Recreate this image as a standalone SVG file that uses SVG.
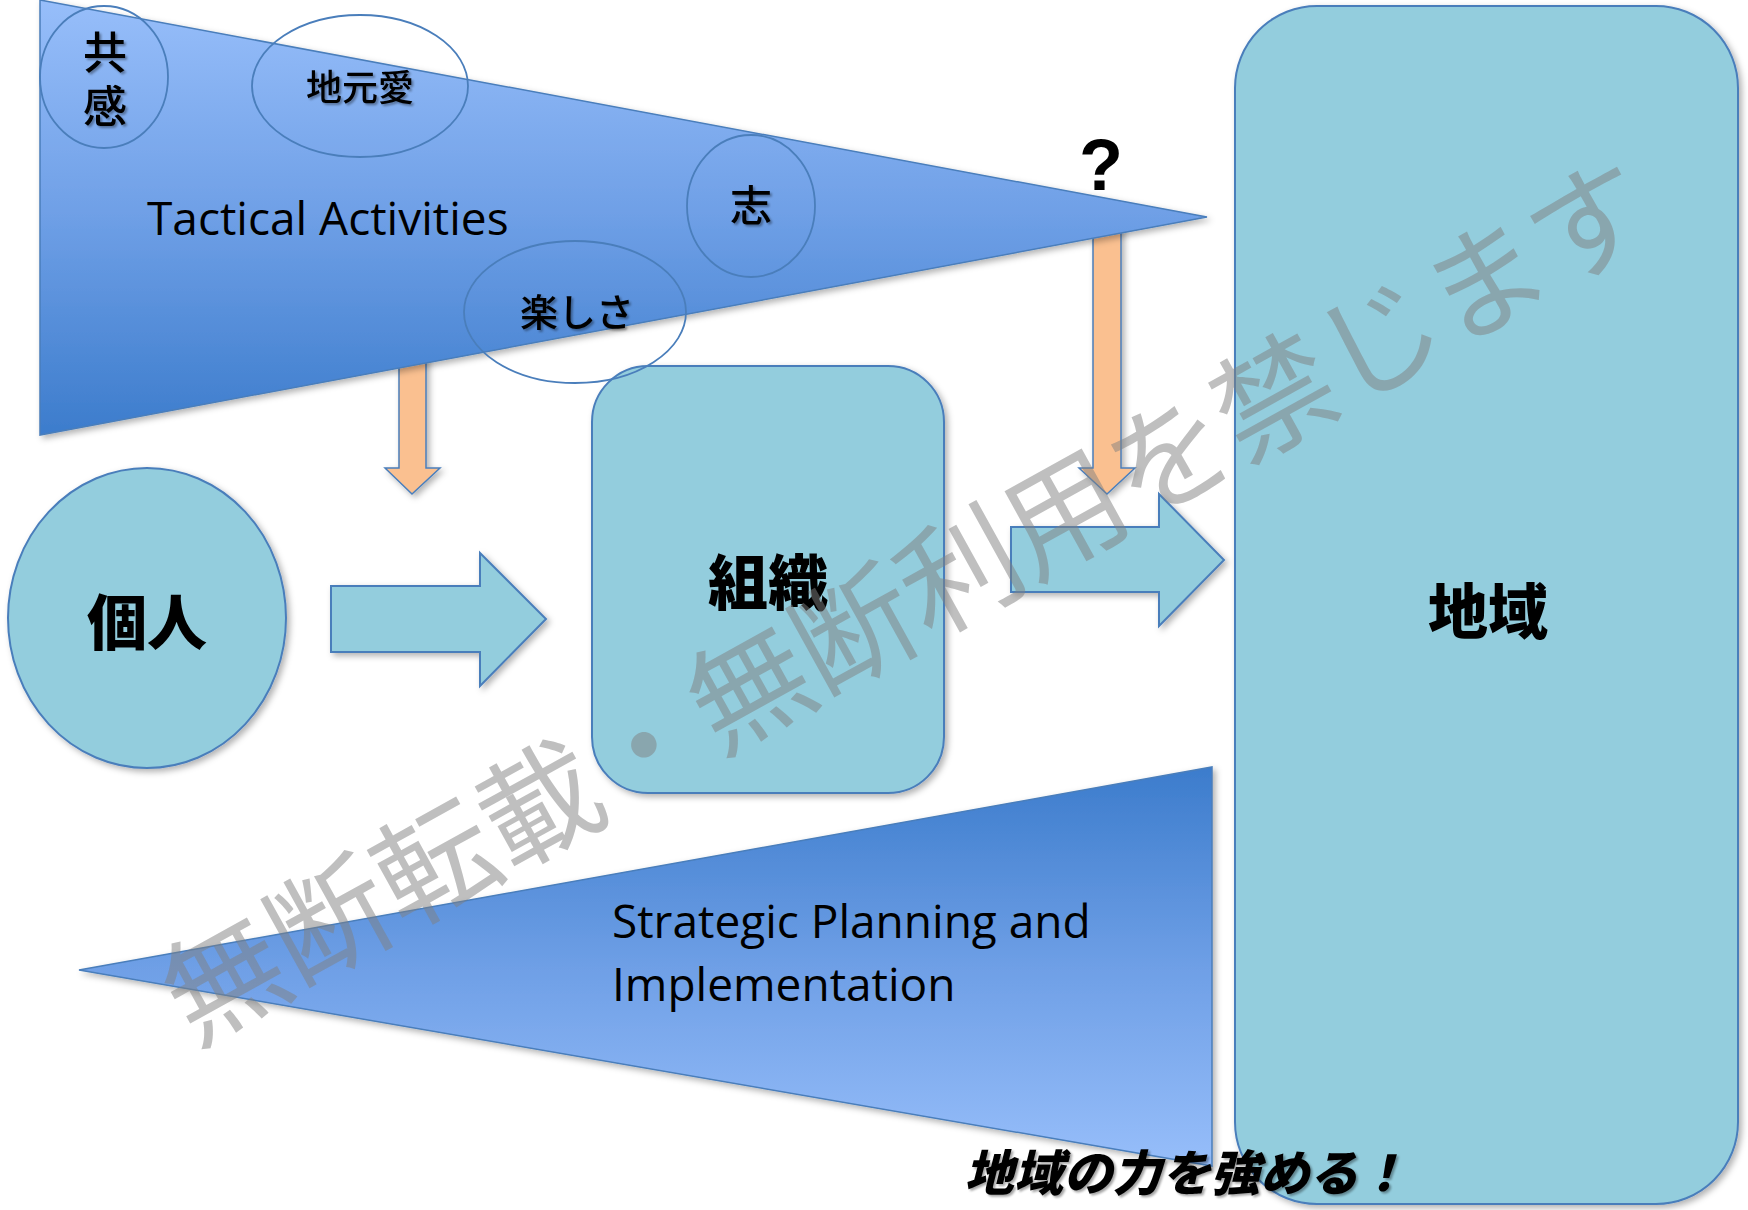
<svg xmlns="http://www.w3.org/2000/svg" width="1748" height="1210" viewBox="0 0 1748 1210">
<defs>
<linearGradient id="gDown" x1="0" y1="0" x2="0" y2="1">
<stop offset="0" stop-color="#97BEFA"/>
<stop offset="0.5" stop-color="#6E9FE6"/>
<stop offset="1" stop-color="#3C7CCC"/>
</linearGradient>
<linearGradient id="gUp" x1="0" y1="0" x2="0" y2="1">
<stop offset="0" stop-color="#3C7CCC"/>
<stop offset="0.5" stop-color="#6E9FE6"/>
<stop offset="1" stop-color="#97BEFA"/>
</linearGradient>
<filter id="sh" x="-10%" y="-10%" width="125%" height="125%">
<feDropShadow dx="3" dy="3" stdDeviation="3" flood-color="#000" flood-opacity="0.3"/>
</filter>
<filter id="tsh" x="-10%" y="-10%" width="125%" height="130%">
<feDropShadow dx="2" dy="2" stdDeviation="1.2" flood-color="#000" flood-opacity="0.35"/>
</filter>
<style>
.teal{fill:#93CDDD;stroke:#4A7EBB;stroke-width:2;filter:url(#sh)}
.orange{fill:#FAC090;stroke:#4A7EBB;stroke-width:1.5;filter:url(#sh)}
.tri{stroke:#4A7EBB;stroke-width:1.5;filter:url(#sh)}
.ring{fill:none;stroke:#4A7EBB;stroke-width:1.8}
.jp{font-family:"Noto Sans CJK JP","Noto Sans CJK SC",sans-serif;fill:#000;text-anchor:middle}
.small{font-weight:500;filter:url(#tsh)}
.big{font-weight:900;font-size:60px}
.en{font-family:"Open Sans","Liberation Sans",sans-serif;font-size:46px;fill:#000}
.wm{font-family:"Noto Sans CJK JP",sans-serif;font-size:120px;fill:#808080;fill-opacity:0.5;text-anchor:middle}
</style>
</defs>
<rect width="1748" height="1210" fill="#FFFFFF"/>

<g id="connectors">
<polygon id="arrow-kojin-soshiki" class="teal" points="331,586 480,586 480,553 546,619 480,686 480,652 331,652"/>
<polygon id="arrow-soshiki-chiiki" class="teal" points="1011,527 1159,527 1159,494 1224,560 1159,626 1159,592 1011,592"/>
<polygon id="arrow-tactical-left" class="orange" points="399,340 426,340 426,468 440,468 412,494 385,468 399,468"/>
<polygon id="arrow-tactical-right" class="orange" points="1093,220 1121,220 1121,468 1135,468 1107,494 1079,468 1093,468"/>
</g>

<g id="n-tactical">
<polygon class="tri" fill="url(#gDown)" points="40,0 1207,217 40,435"/>
<text class="en" x="147" y="235">Tactical Activities</text>
</g>

<g id="n-strategic">
<polygon class="tri" fill="url(#gUp)" points="1212,767 1212,1166 79,970"/>
<text class="en" x="612" y="938">Strategic Planning and</text>
<text class="en" x="612" y="1001">Implementation</text>
</g>

<g id="n-kojin">
<ellipse class="teal" cx="147" cy="618" rx="139" ry="150"/>
<text class="jp big" x="147" y="645">個人</text>
</g>

<g id="n-soshiki">
<rect class="teal" x="592" y="366" width="352" height="427" rx="56" ry="56"/>
<text class="jp big" x="768" y="605">組織</text>
</g>

<g id="n-chiiki">
<rect class="teal" x="1235" y="6" width="503" height="1198" rx="82" ry="82"/>
<text class="jp big" x="1488" y="634">地域</text>
</g>

<g id="n-kyokan">
<ellipse class="ring" cx="104" cy="77" rx="64" ry="71"/>
<text class="small" x="105" y="30" writing-mode="vertical-rl" letter-spacing="10" font-family="Noto Sans CJK JP, Noto Sans CJK SC, sans-serif" font-size="44" font-weight="700" fill="#000">共感</text>
</g>

<g id="n-jimotoai">
<ellipse class="ring" cx="360" cy="86" rx="108" ry="71"/>
<text class="jp small" x="360" y="101" font-size="36">地元愛</text>
</g>

<g id="n-kokorozashi">
<ellipse class="ring" cx="751" cy="206" rx="64" ry="71"/>
<text class="jp small" x="751" y="221" font-size="42">志</text>
</g>

<g id="n-tanoshisa">
<ellipse class="ring" cx="575" cy="312" rx="111" ry="71"/>
<text class="jp small" x="577" y="326" font-size="38">楽しさ</text>
</g>

<g id="n-question">
<text x="1101" y="190" font-family="Liberation Sans, Arial, sans-serif" font-weight="700" font-size="72" text-anchor="middle">?</text>
</g>

<g id="n-slogan">
<text class="jp" x="1186" y="1191" font-size="49" font-weight="900" font-style="italic" filter="url(#tsh)" textLength="443" lengthAdjust="spacingAndGlyphs">地域の力を強める！</text>
</g>

<g id="watermark" transform="translate(906,599) rotate(-29)">
<text class="wm" x="0" y="46">無断転載・無断利用を禁じます</text>
</g>
</svg>
